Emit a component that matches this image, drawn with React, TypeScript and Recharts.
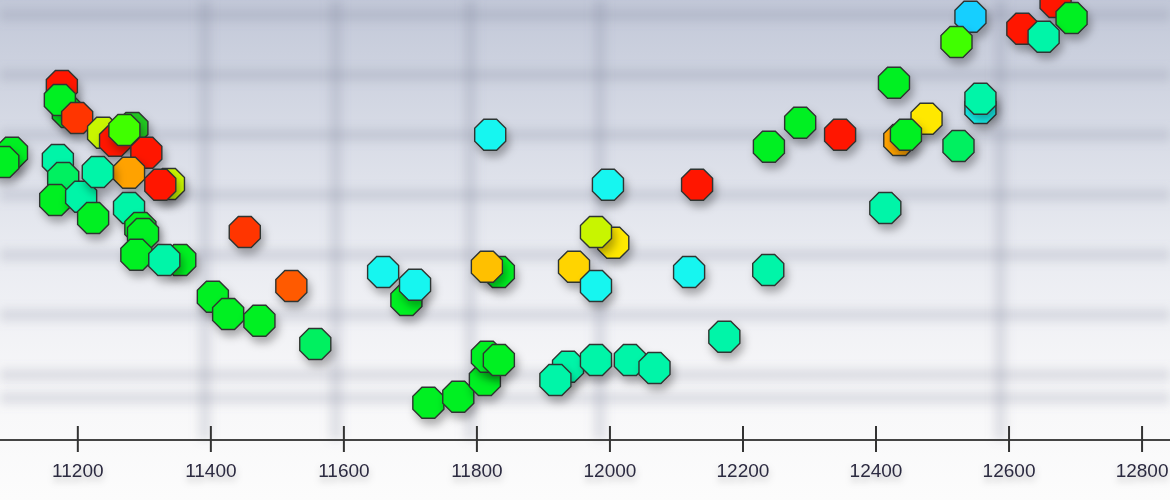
import { ScatterChart, Scatter, XAxis, YAxis, ReferenceLine } from 'recharts';

const X_TICKS = [11200, 11400, 11600, 11800, 12000, 12200, 12400, 12600, 12800];
const X_DOMAIN: [number, number] = [11083, 12842];
const Y_DOMAIN: [number, number] = [0, 110];
const GRID_Y = [106.25, 91.25, 76.25, 61.25, 46.25, 31.25, 16.25, 10.5];
const GRID_X = [11391, 11588, 11790, 11985, 12587];

const COLORS: Record<string, string> = {
  R:   '#ff1500',
  RO:  '#ff3500',
  RO2: '#ff5a00',
  OR:  '#ffa200',
  AM:  '#ffc000',
  GD:  '#ffd400',
  YE:  '#ffe800',
  YG:  '#c8f500',
  LG:  '#40ff00',
  G:   '#00f020',
  DG:  '#22c822',
  SG:  '#00f060',
  AQ:  '#00f5a8',
  CY:  '#14f6f0',
  SK:  '#14cfff',
};

// [x, y, colour key] in draw order (later ones sit on top)
const LEFT_CLUSTER: [number, number, string][] = [
  [11176, 88.5, 'R'],
  [11185, 82, 'G'],
  [11173, 85, 'G'],
  [11199, 80.5, 'RO'],
  [11238, 76.8, 'YG'],
  [11282, 78, 'DG'],
  [11256, 74.8, 'R'],
  [11270, 77.5, 'LG'],
  [11303, 71.8, 'R'],
  [11277, 66.8, 'OR'],
  [11337, 64, 'YG'],
  [11324, 63.8, 'R'],
  [11101, 71.8, 'G'],
  [11088, 69.5, 'G'],
  [11170, 70, 'AQ'],
  [11178, 65.5, 'SG'],
  [11166, 60, 'G'],
  [11205, 60.8, 'AQ'],
  [11230, 67, 'AQ'],
  [11223, 55.5, 'G'],
  [11277, 58, 'AQ'],
  [11294, 53, 'G'],
  [11298, 51.5, 'G'],
  [11288, 46.3, 'G'],
  [11354, 45, 'G'],
  [11330, 45, 'AQ'],
  [11451, 52, 'RO'],
  [11521, 38.5, 'RO2'],
  [11403, 35.8, 'G'],
  [11426, 31.5, 'G'],
  [11473, 29.8, 'G'],
  [11557, 24, 'SG'],
];

const MIDDLE_CLUSTER: [number, number, string][] = [
  [11659, 42, 'CY'],
  [11694, 35, 'G'],
  [11707, 38.8, 'CY'],
  [11833, 42, 'G'],
  [11815, 43.3, 'AM'],
  [11820, 76.3, 'CY'],
  [11997, 63.8, 'CY'],
  [12131, 63.8, 'R'],
  [12005, 49.3, 'YE'],
  [11979, 52, 'YG'],
  [11946, 43.3, 'GD'],
  [11979, 38.5, 'CY'],
  [12119, 42, 'CY'],
  [12238, 42.5, 'AQ'],
  [11727, 9.3, 'G'],
  [11772, 10.8, 'G'],
  [11812, 15, 'G'],
  [11815, 20.8, 'G'],
  [11833, 20, 'G'],
  [11937, 18.3, 'AQ'],
  [11918, 15, 'AQ'],
  [11979, 20, 'AQ'],
  [12030, 20, 'AQ'],
  [12067, 18, 'AQ'],
  [12172, 25.8, 'AQ'],
];

const RIGHT_CLUSTER: [number, number, string][] = [
  [12239, 73.3, 'G'],
  [12286, 79.3, 'G'],
  [12346, 76.3, 'R'],
  [12427, 89.3, 'G'],
  [12435, 75, 'OR'],
  [12476, 80.3, 'YE'],
  [12445, 76.3, 'G'],
  [12557, 83, 'CY'],
  [12557, 85.3, 'AQ'],
  [12524, 73.5, 'SG'],
  [12414, 58, 'AQ'],
  [12542, 105.8, 'SK'],
  [12521, 99.5, 'LG'],
  [12670, 109.5, 'R'],
  [12694, 105.5, 'G'],
  [12620, 102.8, 'R'],
  [12652, 100.8, 'AQ'],
];

const points = [...LEFT_CLUSTER, ...MIDDLE_CLUSTER, ...RIGHT_CLUSTER].map(([x, y, c]) => ({
  x,
  y,
  color: COLORS[c],
}));

function Octagon(props: any) {
  const { cx, cy, payload } = props;
  if (cx == null || cy == null) return null;
  const r = 16.8;
  const pts = Array.from({ length: 8 }, (_, k) => {
    const a = (Math.PI / 8) + (k * Math.PI) / 4;
    return `${cx + r * Math.cos(a)},${cy + r * Math.sin(a)}`;
  }).join(' ');
  return (
    <polygon
      points={pts}
      fill={payload.color}
      stroke="#2f3430"
      strokeWidth={1.4}
      filter="url(#dotShadow)"
    />
  );
}

function AxisTick(props: any) {
  const { x, y, payload } = props;
  return (
    <g>
      <line x1={x} x2={x} y1={y - 14} y2={y + 12} stroke="#333" strokeWidth={2} />
      <text
        x={x}
        y={y + 37}
        textAnchor="middle"
        fontFamily="'Liberation Sans', Arial, sans-serif"
        fontSize={19}
        fill="#2c2a40"
        filter="url(#textShadow)"
      >
        {payload.value}
      </text>
    </g>
  );
}

function BlurLine(props: any) {
  const { x1, y1, x2, y2 } = props;
  return (
    <line
      x1={x1}
      y1={y1}
      x2={x2}
      y2={y2}
      stroke="#7d8496"
      strokeOpacity={0.2}
      strokeWidth={13}
      filter="url(#gridBlur)"
    />
  );
}

export default function App() {
  return (
    <div
      style={{
        position: 'absolute',
        left: 0,
        top: 0,
        width: 1170,
        height: 500,
        overflow: 'hidden',
        background: 'linear-gradient(to bottom, #c2c8d8 0%, #d6dae5 25%, #e9ebf1 50%, #f6f6f8 75%, #fcfcfc 100%)',
      }}
    >
      <ScatterChart width={1170} height={500} margin={{ top: 0, right: 0, bottom: 0, left: 0 }}>
        <defs>
          <filter id="gridBlur" filterUnits="userSpaceOnUse" x="-20" y="-20" width="1210" height="540">
            <feGaussianBlur stdDeviation="5" />
          </filter>
          <filter id="dotShadow" x="-60%" y="-60%" width="220%" height="240%">
            <feDropShadow dx="3" dy="6" stdDeviation="4.5" floodColor="#000" floodOpacity="0.3" />
          </filter>
          <filter id="textShadow" x="-30%" y="-50%" width="160%" height="220%">
            <feDropShadow dx="0" dy="4" stdDeviation="3.5" floodColor="#000" floodOpacity="0.25" />
          </filter>
        </defs>
        <XAxis
          type="number"
          dataKey="x"
          domain={X_DOMAIN}
          ticks={X_TICKS}
          interval={0}
          allowDataOverflow
          height={60}
          tickSize={0}
          tickMargin={0}
          tickLine={false}
          axisLine={{ stroke: '#444', strokeWidth: 2 }}
          tick={<AxisTick />}
        />
        <YAxis type="number" dataKey="y" domain={Y_DOMAIN} allowDataOverflow hide />
        {GRID_Y.map((v) => (
          <ReferenceLine key={`gy${v}`} y={v} shape={<BlurLine />} />
        ))}
        {GRID_X.map((v) => (
          <ReferenceLine key={`gx${v}`} x={v} shape={<BlurLine />} />
        ))}
        <Scatter data={points} shape={(p: any) => <Octagon {...p} />} isAnimationActive={false} />
      </ScatterChart>
    </div>
  );
}
